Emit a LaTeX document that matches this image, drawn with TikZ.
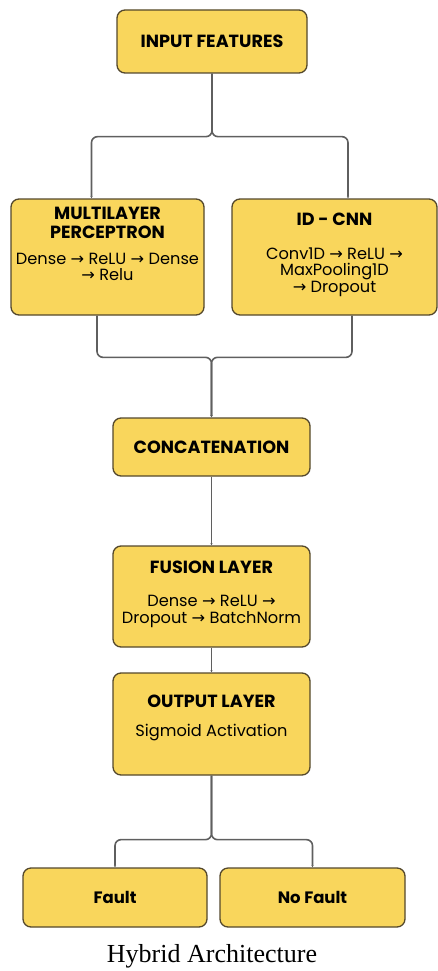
\documentclass[tikz,border=0pt]{standalone}
\usepackage{fontspec}
\setmainfont{Poppins}
\newfontfamily\capfont{Liberation Serif}
\newfontfamily\arrowfont{DejaVu Sans}
\usepackage{tikz}
\usepackage{xcolor}
\usetikzlibrary{arrows.meta,positioning,calc}
\definecolor{BoxYellow}{RGB}{249,214,92}
\definecolor{BoxEdge}{RGB}{84,72,44}
\definecolor{WireGray}{RGB}{95,95,95}
\newcommand{\nxt}{{\arrowfont\char"2192}}

\tikzset{
  block/.style={draw=BoxEdge, fill=BoxYellow, line width=1.3pt, rounded corners=8pt},
  head/.style={font=\bfseries\fontsize{17.6}{18.5}\selectfont, align=center, inner sep=0pt},
  leaf/.style={font=\bfseries\fontsize{16.5}{18}\selectfont},
  body/.style={font=\fontsize{16.2}{16.5}\selectfont, align=center, inner sep=0pt},
  wire/.style={draw=WireGray, line width=1.6pt, rounded corners=6pt,
               -{Latex[length=2pt,width=2.5pt]}},
}

\begin{document}
\begin{tikzpicture}[x=1pt,y=-1pt]
\useasboundingbox (0,0) rectangle (438,971);

% boxes
\node[block, head, minimum width=190pt, minimum height=63pt] (input) at (212,41.5) {INPUT FEATURES};

\node[block, minimum width=193pt, minimum height=116pt] (mlp) at (107.5,257) {};
\node[head, below=9pt of mlp.north] (mlpT) {MULTILAYER\\PERCEPTRON};
\node[body, below=14pt of mlpT] (mlpB) {Dense \nxt{} ReLU \nxt{} Dense\\\nxt{} Relu};

\node[block, minimum width=205pt, minimum height=116pt] (cnn) at (334.5,257) {};
\node[head, below=14pt of cnn.north] (cnnT) {ID - CNN};
\node[body, below=22pt of cnnT] (cnnB) {Conv1D \nxt{} ReLU \nxt{}\\MaxPooling1D\\\nxt{} Dropout};

\node[block, head, minimum width=197pt, minimum height=58pt] (concat) at (211.5,447) {CONCATENATION};

\node[block, minimum width=197pt, minimum height=101pt] (fusion) at (211.5,596.5) {};
\node[head, below=15pt of fusion.north] (fusionT) {FUSION LAYER};
\node[body, below=22pt of fusionT] (fusionB) {Dense \nxt{} ReLU \nxt{}\\Dropout \nxt{} BatchNorm};

\node[block, minimum width=197pt, minimum height=102pt] (output) at (211.5,724) {};
\node[head, below=22pt of output.north] (outputT) {OUTPUT LAYER};
\node[body, below=17pt of outputT] (outputB) {Sigmoid Activation};

\node[block, leaf, minimum width=184pt, minimum height=59pt] (fault) at (115,897.5) {Fault};
\node[block, leaf, minimum width=185pt, minimum height=59pt] (nofault) at (312.5,897.5) {No Fault};

\node[font=\capfont\fontsize{26}{28}\selectfont, inner sep=0pt] (caption) at (212,956) {Hybrid Architecture};

% connectors
\coordinate (split) at ($(input.south)+(0,63)$);
\draw[wire] (input.south) -- (split) -| ($(mlp.north)+(-16,0)$);
\draw[wire] (input.south) -- (split) -| ($(cnn.north)+(13.5,0)$);

\coordinate (merge) at ($(concat.north)+(0,-60)$);
\draw[wire] ($(mlp.south)+(-10.5,0)$) |- (merge) -- (concat.north);
\draw[wire] ($(cnn.south)+(17.5,0)$) |- (merge) -- (concat.north);

\draw[wire] (concat) -- (fusion);
\draw[wire] (fusion) -- (output);

\coordinate (fork) at ($(output.south)+(0,64)$);
\draw[wire] (output.south) -- (fork) -| (fault.north);
\draw[wire] (output.south) -- (fork) -| (nofault.north);
\end{tikzpicture}
\end{document}
